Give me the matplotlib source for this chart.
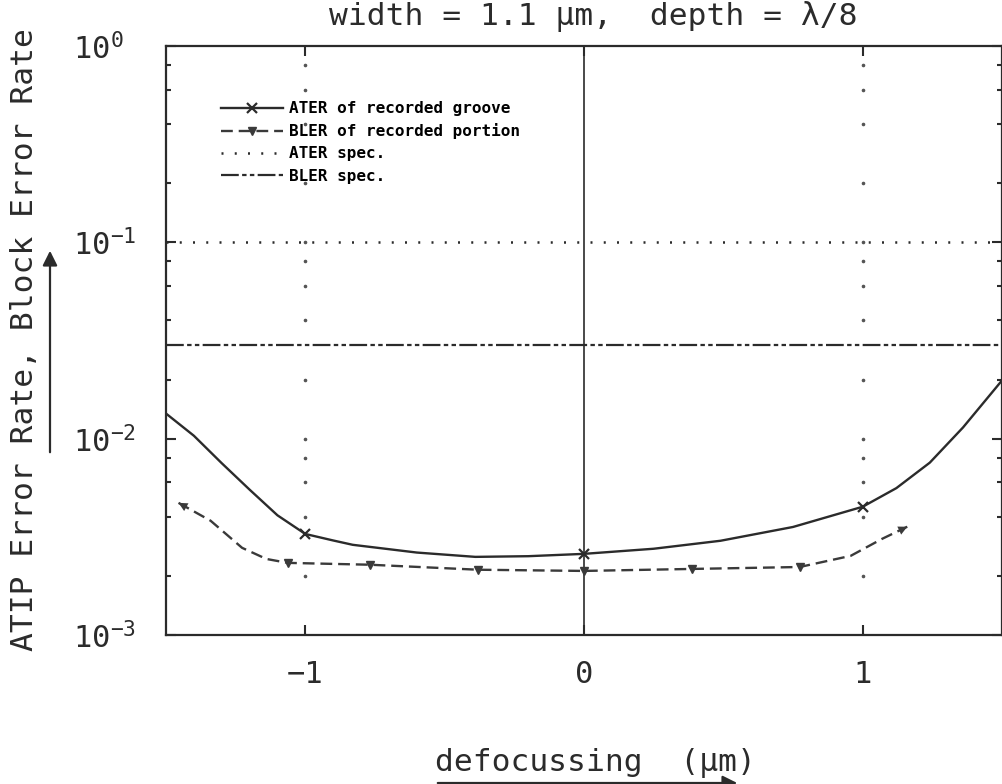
#!/usr/bin/env python3
# ATER / BLER versus defocussing, log scale
import numpy as np
import matplotlib
matplotlib.use("Agg")
import matplotlib.pyplot as plt
from matplotlib.ticker import LogLocator, NullFormatter, FixedLocator

plt.rcParams['font.family'] = ['DejaVu Sans Mono']
plt.rcParams['mathtext.fontset'] = 'custom'
plt.rcParams['mathtext.rm'] = 'DejaVu Sans Mono'

# ATER of recorded groove (solid curve, x markers at -1, 0, 1)
ater_x = [-1.5, -1.4, -1.3, -1.2, -1.1, -1.0, -0.9, -0.83, -0.6, -0.39, -0.2,
          0.0, 0.25, 0.49, 0.75, 1.0, 1.121, 1.241, 1.36, 1.5]
ater_y = [0.01343, 0.01035, 0.0075, 0.0055, 0.00407, 0.00327, 0.00303, 0.00288,
          0.00263, 0.00250, 0.00252, 0.00259, 0.00275, 0.00302, 0.00355, 0.0045,
          0.0056, 0.00755, 0.0114, 0.0198]
ater_marks = [-1.0, 0.0, 1.0]

# BLER of recorded portion (dashed curve, markers at the measured points)
bler_x = [-1.455, -1.34, -1.227, -1.14, -1.063, -0.768, -0.38, 0.0, 0.386,
          0.774, 0.957, 1.07, 1.16]
bler_y = [0.00471, 0.00382, 0.00278, 0.00244, 0.00233, 0.00228, 0.00215,
          0.00212, 0.00217, 0.00222, 0.00253, 0.00309, 0.00356]
bler_marks = [-1.063, -0.768, -0.38, 0.0, 0.386, 0.774]

# spec limits
ater_spec = 0.1
bler_spec = 0.03

W, H = 1003, 784
fig = plt.figure(figsize=(W / 100, H / 100), dpi=100)
ax = fig.add_axes([166 / W, (H - 635) / H, (1002 - 166) / W, (635 - 46) / H])

ink = '#2b2b2b'

ax.set_yscale('log')
ax.set_xlim(-1.5, 1.5)
ax.set_ylim(1e-3, 1)

# dotted grid: dots at x ticks -1, 1 and every y tick
ytick_vals = [m * 10.0 ** e for e in (-3, -2, -1) for m in (1, 2, 4, 6, 8)]
for xv in (-1, 1):
    ax.plot([xv] * len(ytick_vals), ytick_vals, ls='none', marker='o',
            ms=1.6, color='#555555', zorder=1)
ax.axvline(0, color=ink, lw=1.2, zorder=1)

ax.axhline(ater_spec, color=ink, lw=1.8, ls=(0, (0.8, 4.5)),
           label='ATER spec.')
ax.axhline(bler_spec, color=ink, lw=1.6, ls=(0, (8, 1.5, 2, 1.5, 2, 1.5)),
           label='BLER spec.')

ater_idx = [ater_x.index(v) for v in ater_marks]
bler_idx = [bler_x.index(v) for v in bler_marks]
l1, = ax.plot(ater_x, ater_y, color=ink, lw=1.7, marker='x', ms=7, mew=1.6,
              markevery=ater_idx, label='ATER of recorded groove', zorder=3)
l2, = ax.plot(bler_x, bler_y, color='#3a3a3a', lw=1.7, ls=(0, (5, 2.5)),
              marker='v', ms=5.5, markevery=bler_idx,
              label='BLER of recorded portion', zorder=3)
# arrow heads at both ends of the BLER curve
for a, b in ((0, 1), (-1, -2)):
    ax.annotate('', xy=(bler_x[a], bler_y[a]), xytext=(bler_x[b], bler_y[b]),
                arrowprops=dict(arrowstyle='-|>', color='#3a3a3a', lw=0,
                                mutation_scale=16, shrinkA=0, shrinkB=0))

handles = [l1, l2] + ax.get_lines()[3:5]
leg = ax.legend(handles, [h.get_label() for h in handles], loc='upper left',
                bbox_to_anchor=(0.056, 0.92), frameon=False, borderpad=0,
                handlelength=3.9, handletextpad=0.35, labelspacing=0.45,
                prop=dict(family='DejaVu Sans Mono', weight='bold', size=11.5),
                numpoints=1)

# ticks
ax.yaxis.set_major_locator(LogLocator(base=10, numticks=10))
ax.yaxis.set_minor_locator(LogLocator(base=10, subs=(2, 4, 6, 8), numticks=10))
ax.yaxis.set_minor_formatter(NullFormatter())
ax.xaxis.set_major_locator(FixedLocator([-1, 0, 1]))
ax.set_xticklabels(['\u22121', '0', '1'])
ax.tick_params(which='both', direction='in', top=True, right=True,
               width=1.5, colors=ink, labelsize=22)
ax.tick_params(which='major', length=7)
ax.tick_params(which='minor', length=3.5)
ax.tick_params(axis='y', which='major', pad=67)
ax.tick_params(axis='x', which='major', pad=18)
for lab in ax.get_yticklabels():
    lab.set_ha('left')
for s in ax.spines.values():
    s.set_linewidth(1.6)
    s.set_color(ink)

# title and axis labels
fig.text(593 / W, 1 - 17 / H, 'width = 1.1 \u03bcm,  depth = \u03bb/8',
         ha='center', va='center', fontsize=22.5, color=ink)
fig.text(25 / W, 1 - 340 / H, 'ATIP Error Rate, Block Error Rate',
         rotation=90, ha='center', va='center', fontsize=22.5, color=ink)
fig.text(435 / W, 1 - 763 / H, 'defocussing  (\u03bcm)', ha='left',
         va='center', fontsize=22.5, color=ink)

# axis direction arrows
fig.patches.append(matplotlib.patches.FancyArrowPatch(
    (50 / W, 1 - 455 / H), (50 / W, 1 - 248 / H), transform=fig.transFigure,
    arrowstyle='-|>', mutation_scale=22, lw=1.6, color=ink))
fig.patches.append(matplotlib.patches.FancyArrowPatch(
    (435 / W, 1 - 783 / H), (740 / W, 1 - 783 / H), transform=fig.transFigure,
    arrowstyle='-|>', mutation_scale=22, lw=1.6, color=ink))

fig.savefig('out.png', dpi=100)
